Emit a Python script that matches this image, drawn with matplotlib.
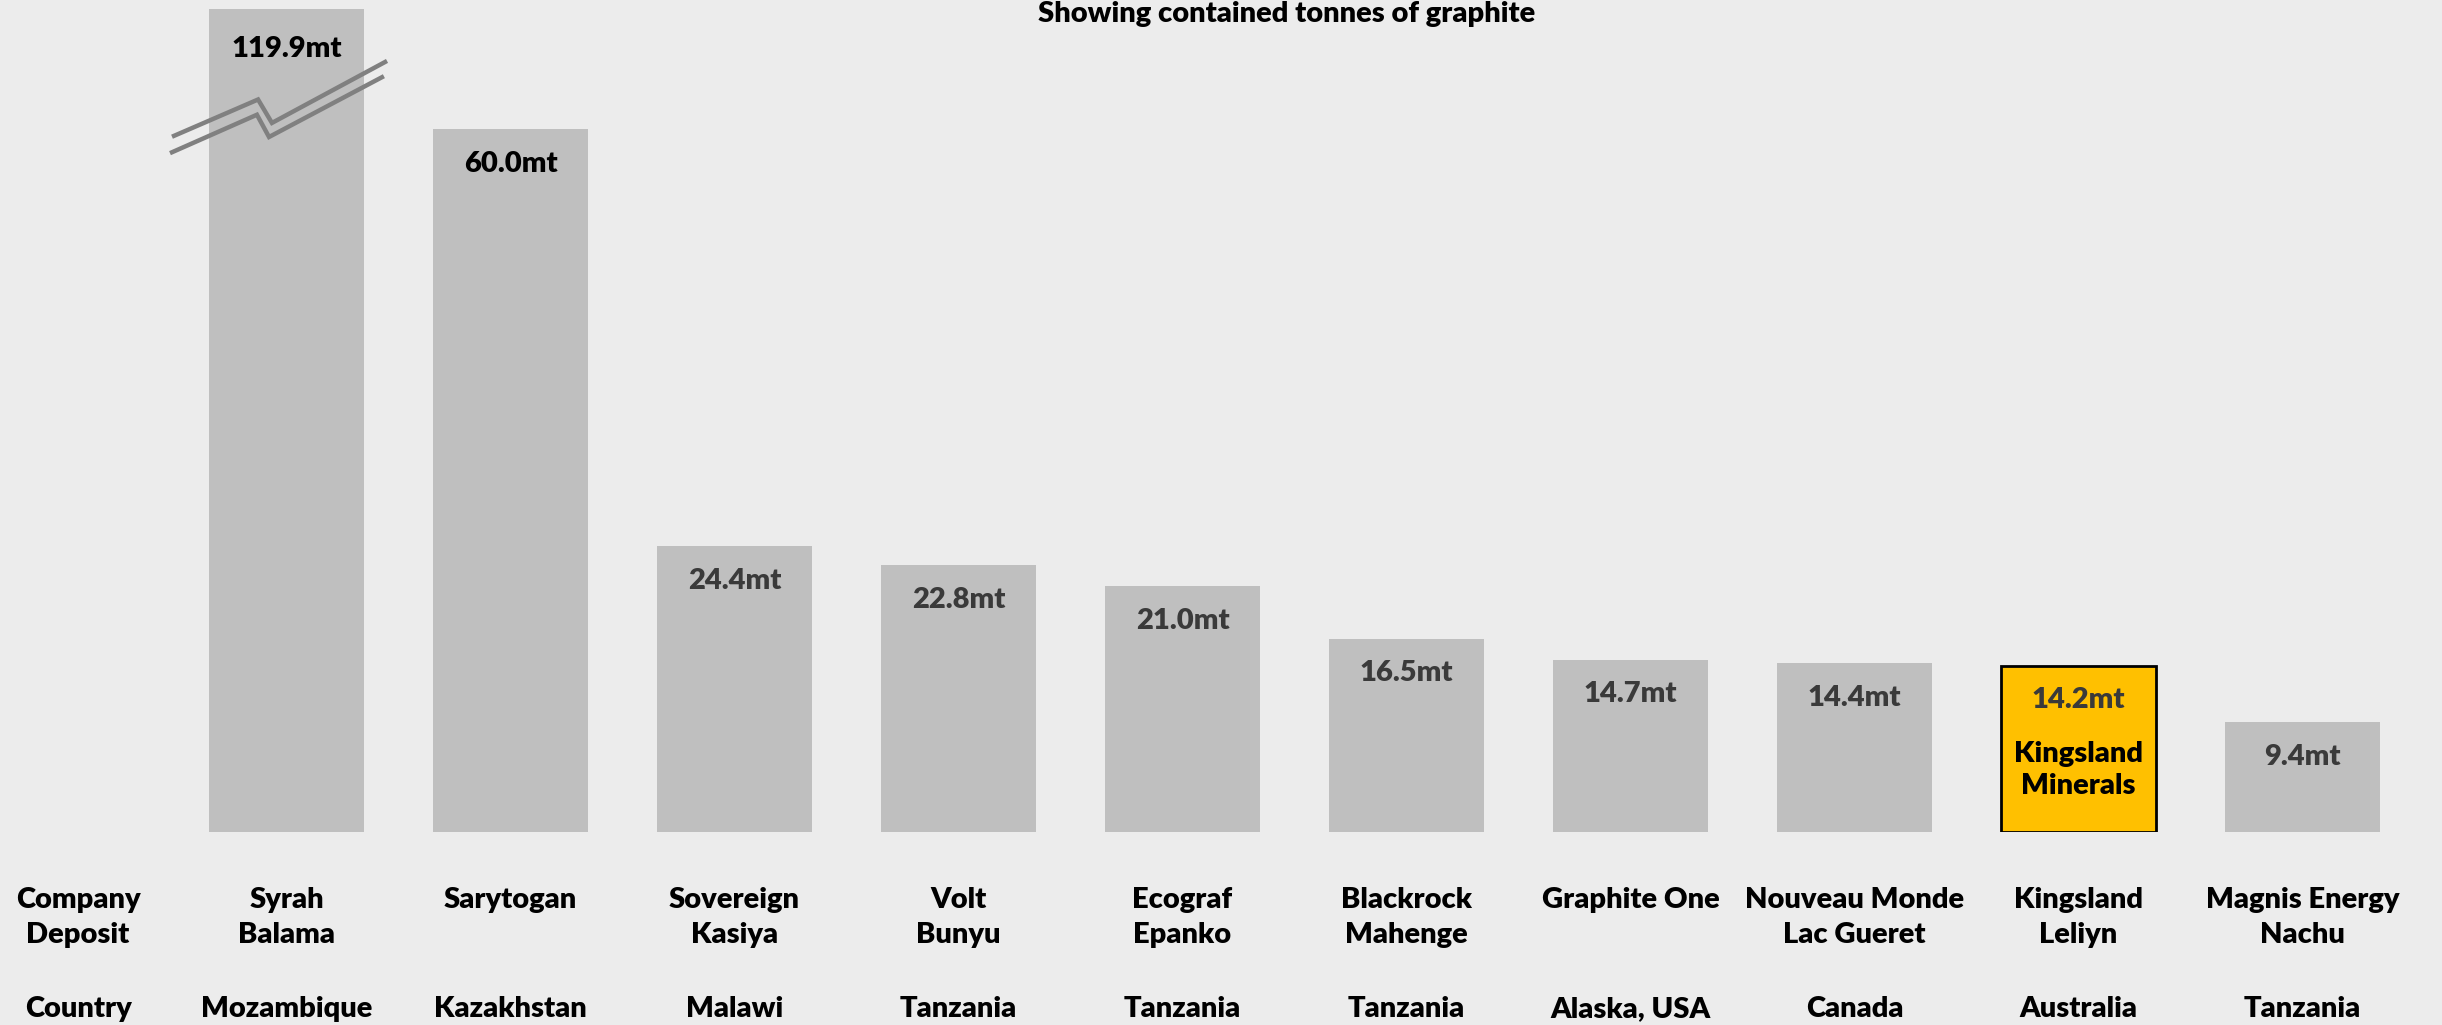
import matplotlib
matplotlib.use("Agg")
import matplotlib.pyplot as plt
import numpy as np

companies = ["Syrah", "Sarytogan", "Sovereign", "Volt", "Ecograf", "Blackrock",
             "Graphite One", "Nouveau Monde", "Kingsland", "Magnis Energy"]
deposits = ["Balama", "", "Kasiya", "Bunyu", "Epanko", "Mahenge",
            "", "Lac Gueret", "Leliyn", "Nachu"]
countries = ["Mozambique", "Kazakhstan", "Malawi", "Tanzania", "Tanzania", "Tanzania",
             "Alaska, USA", "Canada", "Australia", "Tanzania"]
values = [119.9, 60.0, 24.4, 22.8, 21.0, 16.5, 14.7, 14.4, 14.2, 9.4]
value_labels = ["119.9mt", "60.0mt", "24.4mt", "22.8mt", "21.0mt", "16.5mt",
                "14.7mt", "14.4mt", "14.2mt", "9.4mt"]
highlight = "Kingsland"
title = "Showing contained tonnes of graphite"

FONT = ["Lato", "DejaVu Sans"]
plt.rcParams["font.family"] = FONT
WEIGHT = "heavy"

W, H = 2442, 1025
bg = "#ECECEC"
fig = plt.figure(figsize=(W / 100, H / 100), dpi=100, facecolor=bg)

# axes: spans full width; bottom at pixel 832, top at pixel 9
ax = fig.add_axes([0, 1 - 832 / H, 1, (832 - 9) / H])
ax.set_facecolor("none")
px_per_unit = 224.0
x0 = 286.5
ax.set_xlim(-x0 / px_per_unit, (W - x0) / px_per_unit)
px_per_mt = 11.72
ax.set_ylim(0, (832 - 9) / px_per_mt)
for s in ax.spines.values():
    s.set_visible(False)
ax.set_xticks([])
ax.set_yticks([])

x = np.arange(len(values))
colors = ["#FFC000" if c == highlight else "#BFBFBF" for c in companies]
edges = ["black" if c == highlight else "none" for c in companies]
lws = [2.0 if c == highlight else 0 for c in companies]
ax.bar(x, values, width=0.69, color=colors, edgecolor=edges, linewidth=lws, zorder=2)

ylim_top = ax.get_ylim()[1]
for i, (v, lab, c) in enumerate(zip(values, value_labels, companies)):
    top = min(v, ylim_top)
    col = "black" if i < 2 else "#3A3A3A"
    off = -29 if i == 0 else -25
    ax.annotate(lab, (i, top), xytext=(0, off), textcoords="offset points",
                ha="center", va="center", fontsize=21, fontweight=WEIGHT,
                color=col, zorder=4)
    if c == highlight:
        ax.annotate("Kingsland\nMinerals", (i, top), xytext=(0, -75),
                    textcoords="offset points", ha="center", va="center",
                    fontsize=21, fontweight=WEIGHT, color="black",
                    linespacing=1.3, zorder=4)

# axis break marker on the first (truncated) bar
brk_top_x = np.array([-0.502, -0.127, -0.065, 0.44])
brk_top_y = np.array([59.4, 62.5, 60.5, 65.7])
brk_bot_x = np.array([-0.511, -0.132, -0.078, 0.426])
brk_bot_y = np.array([58.0, 61.2, 59.3, 64.4])
ax.plot(x[0] + brk_top_x, brk_top_y, color="#808080", lw=3.2, zorder=5,
        solid_joinstyle="miter", clip_on=False)
ax.plot(x[0] + brk_bot_x, brk_bot_y, color="#808080", lw=3.2, zorder=5,
        solid_joinstyle="miter", clip_on=False)

# title
fig.text(1287 / W, 1 - 14 / H, title, ha="center", va="center",
         fontsize=21, fontweight=WEIGHT, color="black")

# category labels below
row1_y = 1 - 900 / H
row2_y = 1 - 935 / H
row3_y = 1 - 1009 / H
for i in range(len(values)):
    xf = (x0 + px_per_unit * x[i]) / W
    fig.text(xf, row1_y, companies[i], ha="center", va="center",
             fontsize=21, fontweight=WEIGHT, color="black")
    if deposits[i]:
        fig.text(xf, row2_y, deposits[i], ha="center", va="center",
                 fontsize=21, fontweight=WEIGHT, color="black")
    fig.text(xf, row3_y, countries[i], ha="center", va="center",
             fontsize=21, fontweight=WEIGHT, color="black")

hx = 78 / W
for yy, lab in [(row1_y, "Company"), (row2_y, "Deposit"), (row3_y, "Country")]:
    fig.text(hx, yy, lab, ha="center", va="center", fontsize=21,
             fontweight=WEIGHT, color="black")

fig.savefig("out.png", dpi=100, facecolor=bg)
